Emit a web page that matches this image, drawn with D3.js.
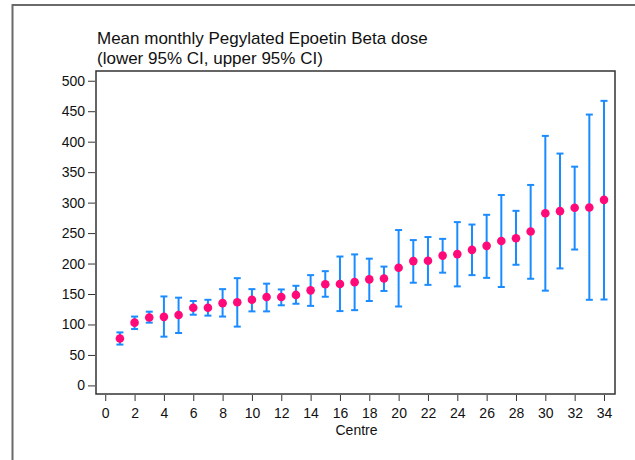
<!DOCTYPE html>
<html>
<head>
<meta charset="utf-8">
<script src="https://cdn.jsdelivr.net/npm/d3@7"></script>
<style>
  body { margin: 0; background: #fff; }
  text { font-family: "Liberation Sans", Arial, sans-serif; fill: #111; }
</style>
</head>
<body>
<div id="chart"></div>
<script>
// Centre number, mean dose and 95% CI bounds
const centres = d3.range(1, 35);
const means = [77, 103, 111.5, 112.5, 115.5, 127.5, 127.5, 135, 136.5, 140.5,
    145, 145, 148.5, 156, 166, 166.5, 169.5, 174, 175.5, 193,
    204, 204.5, 213, 215.5, 222.5, 229, 237, 241.5, 252.5, 282.5,
    286, 291.5, 292, 304.5];
const lower = [67, 92.5, 103, 80, 86, 116, 114.5, 113, 96.5, 121.5,
    121.5, 131.5, 134, 130.5, 145.5, 122, 123.5, 138.5, 155, 129.5,
    168.5, 165, 185, 162.5, 181, 176.5, 161.5, 198, 175, 155.5,
    192, 223, 140.5, 141];
const upper = [87, 113, 121, 146, 144, 138.5, 140.5, 158, 176, 158,
    167, 157.5, 163.5, 181, 187.5, 211.5, 215, 208, 195, 255,
    238.5, 243.5, 240.5, 268, 264, 280, 312.5, 286.5, 329, 409.5,
    380.5, 359, 444.5, 467];

const yTicks = d3.range(0, 501, 50);
const xTicks = d3.range(0, 35, 2);

const data = centres.map((c, i) => ({ centre: c, mean: means[i], lo: lower[i], hi: upper[i] }));

const width = 635, height = 460;
const plot = { left: 96, right: 615, top: 71, bottom: 394 };

const svg = d3.select("#chart")
    .append("svg")
    .attr("width", width)
    .attr("height", height);

// outer graph frame (runs off the right and bottom edges)
svg.append("rect")
    .attr("x", 12.5)
    .attr("y", 5)
    .attr("width", 700)
    .attr("height", 600)
    .attr("fill", "none")
    .attr("stroke", "#6a6a6a")
    .attr("stroke-width", 2);

const xScale = d3.scaleLinear()
    .domain([-0.63, 34.75])
    .range([plot.left, plot.right]);

const yScale = d3.scaleLinear()
    .domain([-14.1, 516])
    .range([plot.bottom, plot.top]);

// plot region box
svg.append("rect")
    .attr("x", plot.left)
    .attr("y", plot.top)
    .attr("width", plot.right - plot.left)
    .attr("height", plot.bottom - plot.top)
    .attr("fill", "none")
    .attr("stroke", "#333")
    .attr("stroke-width", 1.5);

// Y axis
const leftAxis = d3.axisLeft(yScale)
    .tickValues(yTicks)
    .tickSize(7)
    .tickPadding(3);
const gy = svg.append("g")
    .attr("transform", `translate(${plot.left - 1}, 0)`)
    .call(leftAxis);
gy.select(".domain").remove();
gy.selectAll("line").attr("stroke", "#333");
gy.selectAll("text")
    .attr("font-size", 14)
    .attr("font-family", "Liberation Sans, Arial, sans-serif")
    .attr("fill", "#111");

// X axis
const bottomAxis = d3.axisBottom(xScale)
    .tickValues(xTicks)
    .tickSize(6)
    .tickPadding(7);
const gx = svg.append("g")
    .attr("transform", `translate(0, ${plot.bottom + 1})`)
    .call(bottomAxis);
gx.select(".domain").remove();
gx.selectAll("line").attr("stroke", "#333");
gx.selectAll("text")
    .attr("font-size", 14)
    .attr("font-family", "Liberation Sans, Arial, sans-serif")
    .attr("fill", "#111");

// axis title
svg.append("text")
    .text("Centre")
    .attr("x", (plot.left + plot.right) / 2 + 1)
    .attr("y", 435)
    .attr("text-anchor", "middle")
    .attr("font-size", 14);

// chart title
svg.append("text")
    .text("Mean monthly Pegylated Epoetin Beta dose")
    .attr("x", 97)
    .attr("y", 44)
    .attr("font-size", 17);
svg.append("text")
    .text("(lower 95% CI, upper 95% CI)")
    .attr("x", 97)
    .attr("y", 64)
    .attr("font-size", 17);

// error bars
const bars = svg.append("g")
    .attr("stroke", "#1a8cff")
    .attr("stroke-width", 2)
    .attr("fill", "none");

bars.selectAll("line.ci")
    .data(data)
    .join("line")
    .attr("class", "ci")
    .attr("x1", d => xScale(d.centre))
    .attr("x2", d => xScale(d.centre))
    .attr("y1", d => yScale(d.lo))
    .attr("y2", d => yScale(d.hi));

bars.selectAll("line.cap-hi")
    .data(data)
    .join("line")
    .attr("class", "cap-hi")
    .attr("x1", d => xScale(d.centre) - 3.5)
    .attr("x2", d => xScale(d.centre) + 3.5)
    .attr("y1", d => yScale(d.hi))
    .attr("y2", d => yScale(d.hi));

bars.selectAll("line.cap-lo")
    .data(data)
    .join("line")
    .attr("class", "cap-lo")
    .attr("x1", d => xScale(d.centre) - 3.5)
    .attr("x2", d => xScale(d.centre) + 3.5)
    .attr("y1", d => yScale(d.lo))
    .attr("y2", d => yScale(d.lo));

// means
svg.selectAll("circle")
    .data(data)
    .join("circle")
    .attr("cx", d => xScale(d.centre))
    .attr("cy", d => yScale(d.mean))
    .attr("r", 4.3)
    .attr("fill", "#ff0a78");
</script>
</body>
</html>
